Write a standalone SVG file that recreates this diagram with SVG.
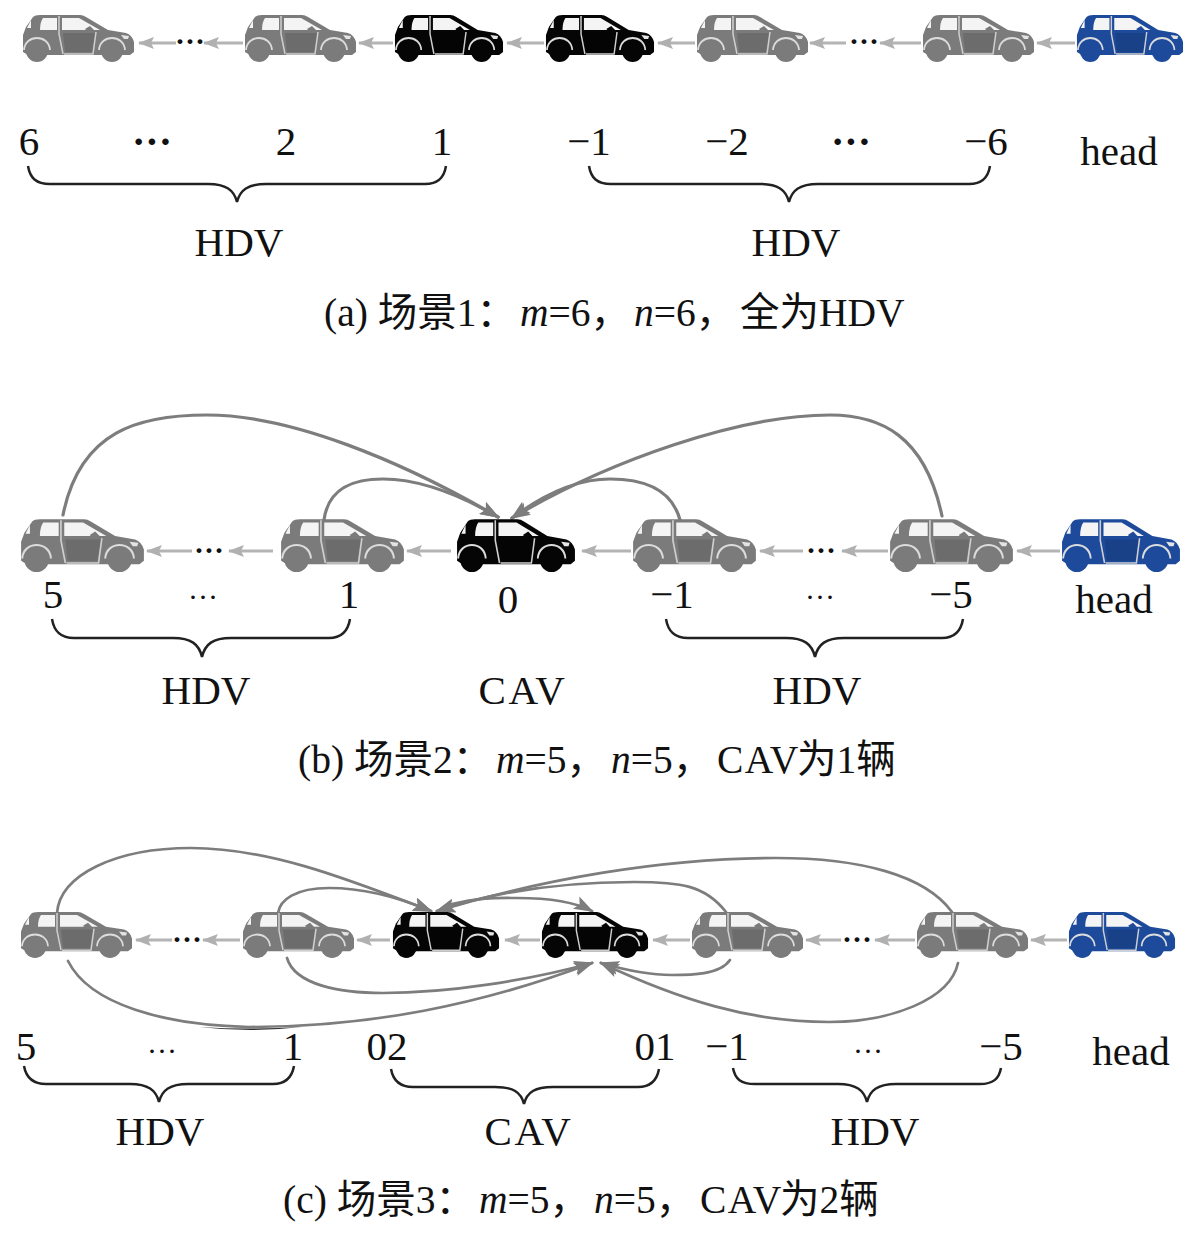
<svg xmlns="http://www.w3.org/2000/svg" width="1196" height="1236" viewBox="0 0 1196 1236">
<style>
text{font-family:"Liberation Serif","Noto Sans CJK SC",serif;font-size:41px;fill:#111;text-anchor:middle}
.cap{font-size:39.5px;text-anchor:start}
.dots{font-size:30px;font-weight:bold}
.mid{font-size:40px;font-weight:bold}
.low{font-size:30px}
.sp{letter-spacing:2.5px}
.brace{fill:none;stroke:#222;stroke-width:2.5}
.arc{fill:none;stroke:#7d7d7d;stroke-width:3.2;stroke-linecap:round}
.thin{stroke-width:2.7}
.lnk{fill:none;stroke:#b4b4b4;stroke-width:3}
.hdv{color:#7b7b7b}.cav{color:#050505}.hd{color:#1d4a9a}
</style>
<defs>
<symbol id="car" viewBox="0 0 113 48" preserveAspectRatio="none">
<path fill="currentColor" d="M1 21L4 13L11 3Q13 1 18 1L58 1Q61 1 64 3L86 16L104 19Q110 21 112 28L112 38L108 41L6 41L1 38Z"/>
<g fill="#f4f4f4"><path d="M21 4L35 4L35 16L18 16Q18 8 21 4Z"/><path d="M40 4L57 4L78 16L40 16Z"/><path d="M5 14L9 6L9 14Z"/><path fill="#e4e4e4" d="M99 21L107 22L106 25L102 25Z"/></g>
<path fill="currentColor" d="M63 15L68 12L72 16L66 18Z"/>
<g fill="none" stroke="#cfcfcf" stroke-width="1.5"><path d="M37 2L37 20L41 40"/><path d="M42 40L71 40L74 18"/></g>
<path fill="#000" fill-opacity=".12" d="M41 19L73 19L70 38L43 38Z"/>
<g fill="none" stroke="#dcdcdc" stroke-width="1.8"><path d="M2 36C3 20 27 20 28 36"/><path d="M77 36C78 20 102 20 103 36"/></g>
<g fill="currentColor"><circle cx="15" cy="37" r="11"/><circle cx="90" cy="37" r="11"/></g>
</symbol>
<marker id="ah" viewBox="0 0 20 14" refX="18" refY="7" markerWidth="20" markerHeight="14" markerUnits="userSpaceOnUse" orient="auto"><path d="M0 0L20 7L0 14L4 7Z" fill="#7d7d7d"/></marker>
<marker id="al" viewBox="0 0 16 12" refX="15" refY="6" markerWidth="16" markerHeight="12" markerUnits="userSpaceOnUse" orient="auto"><path d="M0 0L16 6L0 12L3 6Z" fill="#b0b0b0"/></marker>
</defs>
<rect width="1196" height="1236" fill="#fff"/>

<g id="connectors">
<g marker-end="url(#al)" class="lnk">
<path d="M176 43H139"/><path d="M243 43H204"/><path d="M393 43H359"/><path d="M544 43H507"/><path d="M695 43H658"/><path d="M846 43H810"/><path d="M921 43H880"/><path d="M1075 43H1037"/>
<path d="M192 551H147"/><path d="M273 551H229"/><path d="M451 551H407"/><path d="M631 551H582"/><path d="M803 551H760"/><path d="M888 551H842"/><path d="M1060 551H1017"/>
<path d="M172 940H136"/><path d="M240 940H203"/><path d="M390 940H357"/><path d="M540 940H505"/><path d="M690 940H653"/><path d="M841 940H806"/><path d="M915 940H875"/><path d="M1067 940H1031"/>
</g>
<g class="arc" marker-end="url(#ah)">
<path d="M63 515C80 430 140 415 207 415C290 415 400 460 498 517"/>
<path d="M324 520C328 490 350 479 383 479C420 479 460 495 498 517"/>
<path d="M942 516C925 435 880 415 830 415C740 415 610 460 512 518"/>
<path d="M680 520C672 490 645 479 610 479C575 479 540 497 512 518"/>
</g>
<g class="arc thin" marker-end="url(#ah)">
<path d="M57 913C60 875 115 848 191 848C270 848 350 880 431 911"/>
<path d="M278 913C280 900 295 888 329 888C365 888 400 898 431 911"/>
<path d="M952 912C925 875 860 858 776 858C660 858 540 880 437 911"/>
<path d="M726 912C705 885 680 882 634 882C570 882 500 890 437 911"/>
<path d="M452 904C480 897 500 898 517 898C550 898 575 902 592 911"/>
<path d="M68 961C90 1005 165 1025 249 1027C370 1027 480 1005 592 963"/>
<path d="M287 958C295 985 340 993 383 993C450 993 530 980 592 963"/>
<path d="M730 960C720 975 690 975 672 975C650 975 625 970 601 963"/>
<path d="M958 963C950 1000 890 1022 829 1022C750 1022 680 1000 601 963"/>
</g>
<path id="sliver" d="M199 1027Q250 1030 302 1027Q250 1033 199 1027Z" fill="#333"/>
</g>

<g id="scene-a">
<use id="a6" href="#car" class="hdv" x="22" y="14" width="113" height="48"/>
<use id="a2" href="#car" class="hdv" x="244" y="14" width="113" height="48"/>
<use id="a1" href="#car" class="cav" x="394" y="14" width="110" height="48"/>
<use id="a0" href="#car" class="cav" x="545" y="14" width="110" height="48"/>
<use id="an1" href="#car" class="hdv" x="696" y="14" width="113" height="48"/>
<use id="an2" href="#car" class="hdv" x="922" y="14" width="113" height="48"/>
<use id="ahead" href="#car" class="hd" x="1076" y="14" width="108" height="48"/>
<text class="dots" x="190" y="51">···</text>
<text class="dots" x="864" y="51">···</text>
<text x="29" y="155">6</text><text class="mid" x="152" y="155">···</text><text x="286" y="155">2</text><text x="442" y="155">1</text>
<text x="589" y="155">−1</text><text x="727" y="155">−2</text><text class="mid" x="851" y="155">···</text><text x="986" y="155">−6</text>
<text x="1119" y="165">head</text>
<path class="brace" d="M28 166C30 178 36 184 50 184H208C226 184 234 190 237 202C240 190 248 184 266 184H425C438 184 444 178 446 166"/>
<path class="brace" d="M589 166C591 178 597 184 611 184H760C778 184 786 190 789 202C792 190 800 184 818 184H969C982 184 988 178 990 166"/>
<text x="239" y="256">HDV</text><text x="796" y="256">HDV</text>
<text class="cap" x="324" y="326">(a) 场景1：<tspan x="520" font-style="italic">m</tspan>=6，<tspan x="634" font-style="italic">n</tspan>=6，<tspan x="740">全为HDV</tspan></text>
</g>

<g id="scene-b">
<use id="b5" href="#car" class="hdv" x="20" y="518" width="125" height="54"/>
<use id="b1" href="#car" class="hdv" x="280" y="518" width="125" height="54"/>
<use id="b0" href="#car" class="cav" x="456" y="518" width="120" height="54"/>
<use id="bn1" href="#car" class="hdv" x="632" y="518" width="125" height="54"/>
<use id="bn5" href="#car" class="hdv" x="889" y="518" width="125" height="54"/>
<use id="bhead" href="#car" class="hd" x="1061" y="518" width="120" height="54"/>
<text class="dots" x="209" y="560">···</text>
<text class="dots" x="821" y="560">···</text>
<text x="53" y="608">5</text><text class="low" x="203" y="607">···</text><text x="349" y="608">1</text>
<text x="508" y="613">0</text>
<text x="672" y="608">−1</text><text class="low" x="820" y="607">···</text><text x="951" y="608">−5</text>
<text x="1114" y="613">head</text>
<path class="brace" d="M52 619C54 631 60 638 74 638H173C191 638 199 644 202 657C205 644 213 638 231 638H329C342 638 348 631 350 619"/>
<path class="brace" d="M666 619C668 631 674 638 688 638H786C804 638 812 644 815 657C818 644 826 638 844 638H942C955 638 961 631 963 619"/>
<text x="206" y="704">HDV</text><text class="sp" x="523" y="704">CAV</text><text x="817" y="704">HDV</text>
<text class="cap" x="298" y="773">(b) 场景2：<tspan x="496" font-style="italic">m</tspan>=5，<tspan x="611" font-style="italic">n</tspan>=5，<tspan x="717" letter-spacing="1.5">CAV</tspan><tspan x="797">为1辆</tspan></text>
</g>

<g id="scene-c">
<use id="c5" href="#car" class="hdv" x="20" y="911" width="113" height="47"/>
<use id="c1" href="#car" class="hdv" x="242" y="911" width="113" height="47"/>
<use id="c02" href="#car" class="cav" x="392" y="911" width="108" height="47"/>
<use id="c01" href="#car" class="cav" x="541" y="911" width="108" height="47"/>
<use id="cn1" href="#car" class="hdv" x="691" y="911" width="113" height="47"/>
<use id="cn5" href="#car" class="hdv" x="916" y="911" width="113" height="47"/>
<use id="chead" href="#car" class="hd" x="1068" y="911" width="108" height="47"/>
<text class="dots" x="187" y="949">···</text>
<text class="dots" x="857" y="949">···</text>
<text x="26" y="1060">5</text><text class="low" x="162" y="1061">···</text><text x="293" y="1060">1</text>
<text x="387" y="1060">02</text><text x="655" y="1060">01</text>
<text x="727" y="1060">−1</text><text class="low" x="868" y="1061">···</text><text x="1001" y="1060">−5</text>
<text x="1131" y="1065">head</text>
<path class="brace" d="M24 1066C26 1077 32 1084 46 1084H130C148 1084 156 1090 159 1102C162 1090 170 1084 188 1084H273C286 1084 292 1077 294 1066"/>
<path class="brace" d="M391 1069C393 1080 399 1087 413 1087H495C513 1087 521 1092 524 1104C527 1092 535 1087 553 1087H638C651 1087 657 1080 659 1069"/>
<path class="brace" d="M733 1068C735 1079 741 1084 755 1084H838C856 1084 864 1090 867 1102C870 1090 878 1084 896 1084H980C993 1084 999 1079 1001 1068"/>
<text x="160" y="1145">HDV</text><text class="sp" x="529" y="1145">CAV</text><text x="875" y="1145">HDV</text>
<text class="cap" x="283" y="1213">(c) 场景3：<tspan x="479" font-style="italic">m</tspan>=5，<tspan x="594" font-style="italic">n</tspan>=5，<tspan x="700" letter-spacing="1.5">CAV</tspan><tspan x="780">为2辆</tspan></text>
</g>
</svg>
